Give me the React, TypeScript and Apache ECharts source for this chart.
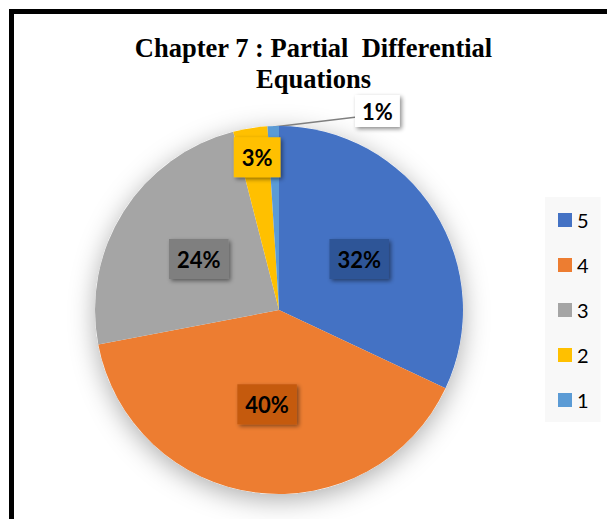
import React, { useEffect, useRef } from "react";
import * as echarts from "echarts";

const titleLines = ["Chapter 7 : Partial  Differential", "Equations"];
const categories = ["5", "4", "3", "2", "1"];
const values = [32, 40, 24, 3, 1];
const sliceColors = ["#4472C4", "#ED7D31", "#A5A5A5", "#FFC000", "#5B9BD5"];
const labelBoxColors = ["#2F5597", "#C55A11", "#7F7F7F", "#FFC000", "#FFFFFF"];

export default function App() {
  const ref = useRef<HTMLDivElement>(null);

  useEffect(() => {
    if (!ref.current) return;
    const chart = echarts.init(ref.current, null, { renderer: "svg" });

    const pieCenter: [number, number] = [279, 310];
    const pieRadius = 184;

    const data = categories.map((name, i) => {
      const outside = i === categories.length - 1;
      return {
        name,
        value: values[i],
        itemStyle: { color: sliceColors[i] },
        label: {
          position: outside ? "outside" : "inside",
          backgroundColor: labelBoxColors[i],
          padding: outside ? [5, 7] : [9, 8],
        },
        labelLine: { show: outside },
      };
    });

    chart.setOption({
      animation: false,
      backgroundColor: "#FFFFFF",
      graphic: [
        {
          type: "rect",
          silent: true,
          shape: { x: 11.5, y: 11.5, width: 700, height: 600 },
          style: { fill: "none", stroke: "#000000", lineWidth: 5 },
          z: 10,
        },
        {
          type: "text",
          silent: true,
          x: 313.5,
          y: 32.5,
          style: {
            text: titleLines.join("\n"),
            font: 'bold 26.5px "Liberation Serif", "Times New Roman", serif',
            fill: "#000000",
            align: "center",
            verticalAlign: "top",
            lineHeight: 31,
          },
        },
      ],
      legend: {
        orient: "vertical",
        left: 545,
        top: 197,
        data: categories,
        icon: "rect",
        itemWidth: 14,
        itemHeight: 14,
        itemGap: 25,
        padding: [13, 12, 12, 13],
        backgroundColor: "#F8F8F8",
        textStyle: {
          fontFamily: "Lato",
          fontSize: 20,
          color: "#000000",
        },
      },
      series: [
        {
          // soft shadow underneath the pie
          type: "pie",
          silent: true,
          center: pieCenter,
          radius: pieRadius,
          z: 1,
          label: { show: false },
          labelLine: { show: false },
          itemStyle: {
            color: "#FFFFFF",
            shadowBlur: 26,
            shadowColor: "rgba(0,0,0,0.32)",
            shadowOffsetY: 6,
          },
          data: [{ value: 1, name: "" }],
        },
        {
          type: "pie",
          center: pieCenter,
          radius: pieRadius,
          startAngle: 90,
          clockwise: true,
          z: 2,
          percentPrecision: 0,
          label: {
            show: true,
            formatter: "{d}%",
            fontFamily: "Lato",
            fontWeight: "bold",
            fontSize: 22,
            lineHeight: 22,
            color: "#000000",
            shadowBlur: 4,
            shadowOffsetX: 2,
            shadowOffsetY: 2,
            shadowColor: "rgba(0,0,0,0.45)",
          },
          labelLine: {
            length: 4,
            length2: 60,
            lineStyle: { color: "#7F7F7F", width: 1.5 },
          },
          labelLayout: (params: any) => {
            const r = params.rect;
            if (params.dataIndex === 3) {
              return { dx: -7, dy: -59 };
            }
            if (params.dataIndex === 4) {
              const x = r.x + r.width + 76;
              const y = r.y - 15;
              return {
                x,
                y,
                align: "left",
                verticalAlign: "middle",
                labelLinePoints: [
                  [r.x + r.width / 2, r.y + 1],
                  [x + 2, y + 6],
                ],
              };
            }
            return {};
          },
          data,
        },
      ],
    });

    return () => chart.dispose();
  }, []);

  return (
    <div
      ref={ref}
      style={{ position: "absolute", left: 0, top: 0, width: 607, height: 519 }}
    />
  );
}
